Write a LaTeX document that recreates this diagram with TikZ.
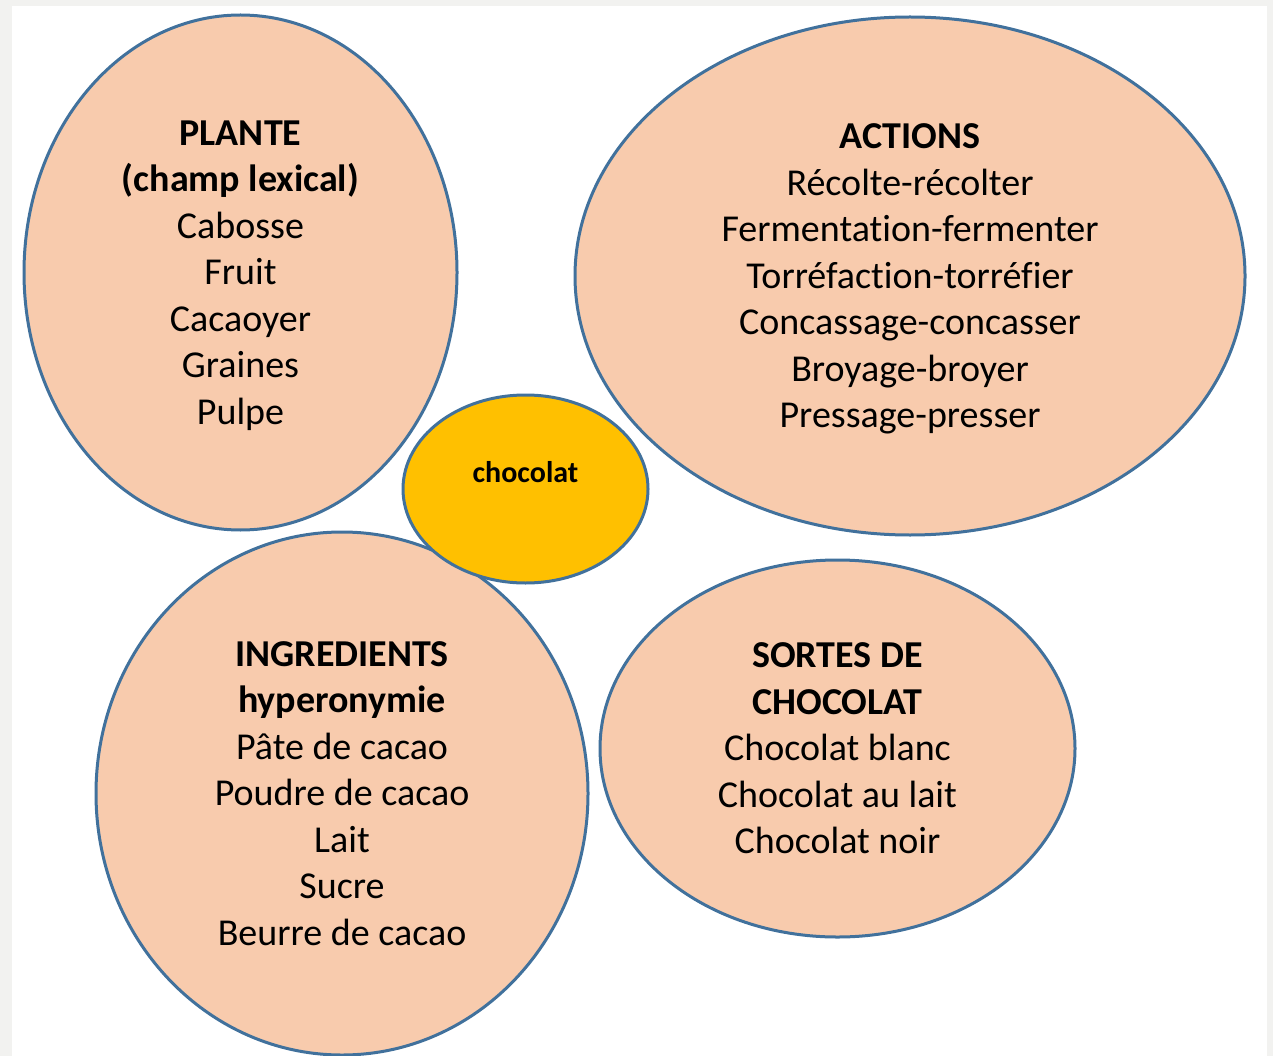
\documentclass[tikz,border=0pt]{standalone}
\usepackage{fontspec}
\setmainfont{Carlito}[Ligatures=NoCommon]
\usetikzlibrary{shapes.geometric}
\definecolor{peche}{HTML}{F8CBAD}
\definecolor{bordure}{HTML}{41719C}
\definecolor{orchoco}{HTML}{FFC000}
\definecolor{fond}{HTML}{F2F2F0}

\begin{document}
\begin{tikzpicture}[x=1pt, y=-1pt,
		bulle/.style={ellipse, draw=bordure, line width=3pt, fill=peche, inner sep=0pt, align=center, text depth=0pt, font=\fontsize{38}{46.5}\selectfont},
		centre/.style={bulle, fill=orchoco}]
		\fill [fond] (0,0) rectangle (1273,1056);
		\fill [white] (12,6) rectangle (1267,1056);
		\useasboundingbox (0,0) rectangle (1273,1056);
		
		\node [bulle, minimum width=433, minimum height=515] (plante) at (240.5,272.5)
		{\textbf{PLANTE}\\ \textbf{(champ lexical)}\\ Cabosse\\ Fruit\\ Cacaoyer\\ Graines\\ Pulpe};
		\node [bulle, minimum width=670, minimum height=518] (actions) at (910,276)
		{\textbf{ACTIONS}\\ Récolte-récolter\\ Fermentation-fermenter\\ Torréfaction-torréfier\\ Concassage-concasser\\ Broyage-broyer\\ Pressage-presser};
		\node [bulle, minimum width=492, minimum height=523] (ingredients) at (342,793.5)
		{\textbf{INGREDIENTS}\\ \textbf{hyperonymie}\\ Pâte de cacao\\ Poudre de cacao\\ Lait\\ Sucre\\ Beurre de cacao};
		\node [bulle, minimum width=475, minimum height=377] (sortes) at (837.5,748.5)
		{\textbf{SORTES DE}\\ \textbf{CHOCOLAT}\\ Chocolat blanc\\ Chocolat au lait\\ Chocolat noir};
		\node [centre, minimum width=245, minimum height=188] (choc) at (525.5,489) {};
		\node [font=\fontsize{30}{36}\selectfont\bfseries, inner sep=0pt] (chocmot) at ([yshift=17pt]choc.center) {chocolat};
		
		\end{tikzpicture}
\end{document}
